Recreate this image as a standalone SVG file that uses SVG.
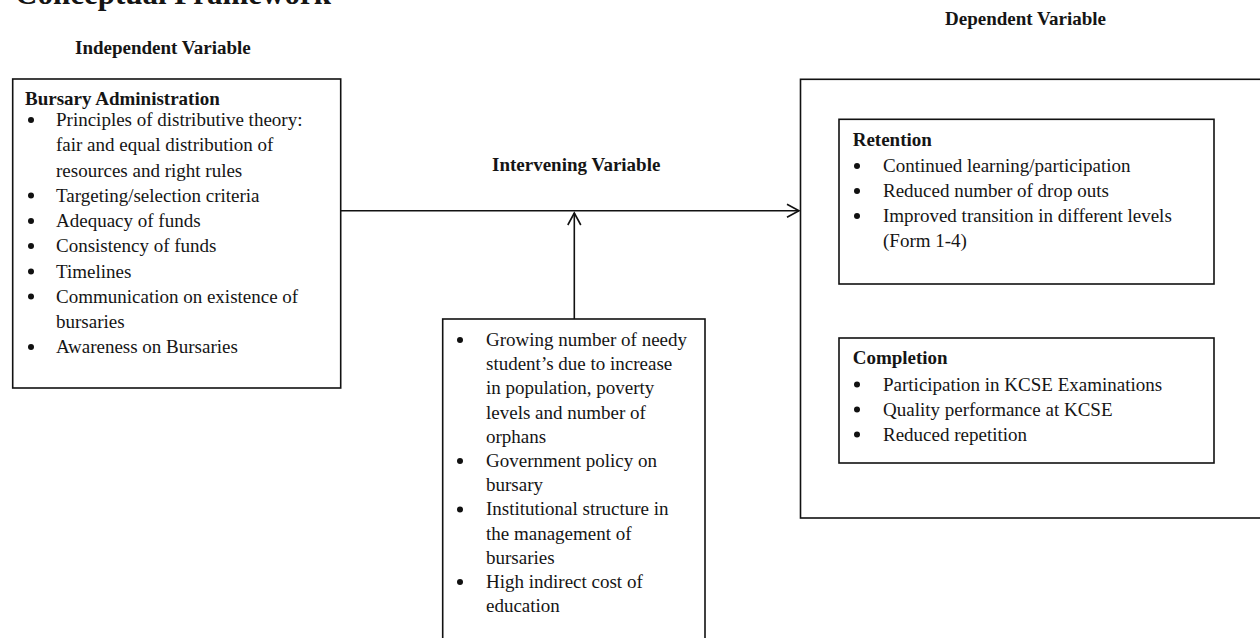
<svg xmlns="http://www.w3.org/2000/svg" width="1260" height="638" viewBox="0 0 1260 638">
<style>
.box{fill:#fff;stroke:#111;stroke-width:1.6}
.t{font-family:"Liberation Serif","Times New Roman",serif;font-size:19px;fill:#151515}
.b{font-weight:bold}
.blt{fill:#111}
.con{stroke:#111;stroke-width:1.6;fill:none}
</style>
<defs>
<marker id="arr" markerUnits="userSpaceOnUse" markerWidth="16" markerHeight="16" viewBox="0 0 16 16" refX="13" refY="8" orient="auto">
<path d="M1,1.5 L13,8 L1,14.5" fill="none" stroke="#111" stroke-width="1.6"/>
</marker>
</defs>
<rect width="1260" height="638" fill="#fff"/>
<text class="t b" x="15" y="4" style="font-size:31px">Conceptual Framework</text>
<text class="t b" x="75" y="54">Independent Variable</text>
<text class="t b" x="945" y="25">Dependent Variable</text>
<text class="t b" x="492" y="171">Intervening Variable</text>

<g id="connectors">
<line class="con" x1="341" y1="210.7" x2="799" y2="210.7" marker-end="url(#arr)"/>
<line class="con" x1="574.3" y1="319" x2="574.3" y2="213" marker-end="url(#arr)"/>
</g>

<g id="independent">
<rect class="box" x="12.7" y="79" width="328" height="309"/>
<text class="t b" x="25" y="105">Bursary Administration</text>
<circle class="blt" cx="31" cy="120" r="3"/>
<text class="t" x="56" y="126">Principles of distributive theory:</text>
<text class="t" x="56" y="151">fair and equal distribution of</text>
<text class="t" x="56" y="176.5">resources and right rules</text>
<circle class="blt" cx="31" cy="195.5" r="3"/>
<text class="t" x="56" y="201.5">Targeting/selection criteria</text>
<circle class="blt" cx="31" cy="221" r="3"/>
<text class="t" x="56" y="227">Adequacy of funds</text>
<circle class="blt" cx="31" cy="246" r="3"/>
<text class="t" x="56" y="252">Consistency of funds</text>
<circle class="blt" cx="31" cy="271.5" r="3"/>
<text class="t" x="56" y="277.5">Timelines</text>
<circle class="blt" cx="31" cy="296.5" r="3"/>
<text class="t" x="56" y="302.5">Communication on existence of</text>
<text class="t" x="56" y="328">bursaries</text>
<circle class="blt" cx="31" cy="347" r="3"/>
<text class="t" x="56" y="353">Awareness on Bursaries</text>
</g>

<g id="intervening">
<rect class="box" x="442.7" y="319" width="262.3" height="330"/>
<circle class="blt" cx="460" cy="340" r="3"/>
<text class="t" x="486" y="346">Growing number of needy</text>
<text class="t" x="486" y="370.2">student’s due to increase</text>
<text class="t" x="486" y="394.4">in population, poverty</text>
<text class="t" x="486" y="418.6">levels and number of</text>
<text class="t" x="486" y="442.8">orphans</text>
<circle class="blt" cx="460" cy="461" r="3"/>
<text class="t" x="486" y="467">Government policy on</text>
<text class="t" x="486" y="491.2">bursary</text>
<circle class="blt" cx="460" cy="509.4" r="3"/>
<text class="t" x="486" y="515.4">Institutional structure in</text>
<text class="t" x="486" y="539.6">the management of</text>
<text class="t" x="486" y="563.8">bursaries</text>
<circle class="blt" cx="460" cy="582" r="3"/>
<text class="t" x="486" y="588">High indirect cost of</text>
<text class="t" x="486" y="612.2">education</text>
</g>

<g id="dependent">
<rect class="box" x="800.5" y="79.3" width="470" height="438.7"/>
</g>

<g id="retention">
<rect class="box" x="839" y="119.3" width="375" height="164.7"/>
<text class="t b" x="852.7" y="146">Retention</text>
<circle class="blt" cx="857" cy="166" r="3"/>
<text class="t" x="883" y="172">Continued learning/participation</text>
<circle class="blt" cx="857" cy="191" r="3"/>
<text class="t" x="883" y="197">Reduced number of drop outs</text>
<circle class="blt" cx="857" cy="216" r="3"/>
<text class="t" x="883" y="222">Improved transition in different levels</text>
<text class="t" x="883" y="247">(Form 1-4)</text>
</g>

<g id="completion">
<rect class="box" x="839" y="338" width="375" height="125"/>
<text class="t b" x="852.7" y="364">Completion</text>
<circle class="blt" cx="857" cy="384.5" r="3"/>
<text class="t" x="883" y="390.5">Participation in KCSE Examinations</text>
<circle class="blt" cx="857" cy="409.5" r="3"/>
<text class="t" x="883" y="415.5">Quality performance at KCSE</text>
<circle class="blt" cx="857" cy="434.5" r="3"/>
<text class="t" x="883" y="440.5">Reduced repetition</text>
</g>
</svg>
